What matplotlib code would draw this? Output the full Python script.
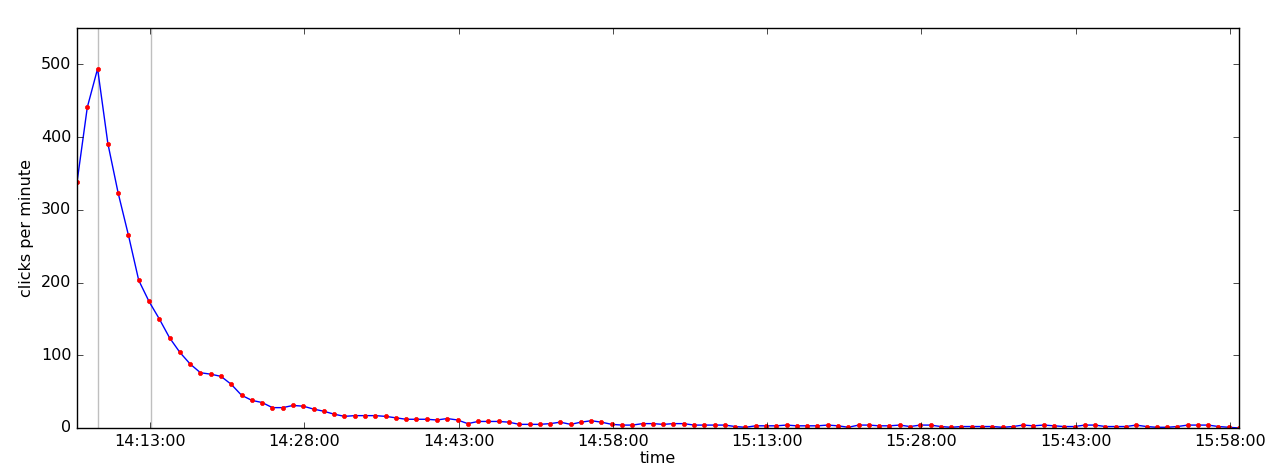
import matplotlib
matplotlib.use("Agg")
import matplotlib.pyplot as plt
import matplotlib.dates as mdates
from datetime import datetime, timedelta

start_time = datetime(2014, 1, 1, 14, 5, 54)
clicks = [338, 441, 494, 391, 323, 265, 203, 174, 150, 124,
          104, 88, 76, 74, 71, 60, 45, 38, 35, 28,
          28, 31, 30, 26, 23, 19, 16, 17, 17, 17,
          16, 14, 12, 12, 12, 11, 13, 11, 6, 9,
          9, 9, 8, 5, 5, 5, 6, 8, 5, 8,
          10, 8, 5, 4, 4, 6, 6, 5, 6, 6,
          4, 4, 4, 4, 2, 1, 3, 3, 3, 4,
          3, 3, 3, 4, 3, 1, 4, 4, 3, 3,
          4, 2, 4, 4, 2, 1, 2, 2, 2, 2,
          1, 2, 4, 3, 4, 3, 2, 2, 4, 4,
          2, 2, 2, 4, 2, 1, 1, 2, 4, 4,
          4, 2, 1, 0]
times = [start_time + timedelta(minutes=i) for i in range(len(clicks))]
event_times = [datetime(2014, 1, 1, 14, 7, 54), datetime(2014, 1, 1, 14, 13, 6)]
tick_times = [datetime(2014, 1, 1, 14, 13) + timedelta(minutes=15 * k) for k in range(8)]
yticks = [0, 100, 200, 300, 400, 500]

plt.style.use('classic')
fig = plt.figure(figsize=(12.86, 4.71), dpi=100, facecolor='white')
ax = fig.add_axes([0.0599, 0.0913, 0.9036, 0.8493])
for et in event_times:
    ax.axvline(et, color='0.75', lw=1.0)
ax.plot(times, clicks, 'b-', lw=1.0)
ax.plot(times, clicks, 'r.', ms=6)
ax.set_xlim(times[0], times[-1])
ax.set_ylim(0, 550)
ax.set_yticks(yticks)
ax.set_xticks(tick_times)
ax.xaxis.set_major_formatter(mdates.DateFormatter('%H:%M:%S'))
ax.tick_params(labelsize=11.5)
ax.set_xlabel('time', fontsize=11.5, labelpad=2)
ax.set_ylabel('clicks per minute', fontsize=11.5)
fig.savefig('out.png', dpi=100, facecolor='white')
